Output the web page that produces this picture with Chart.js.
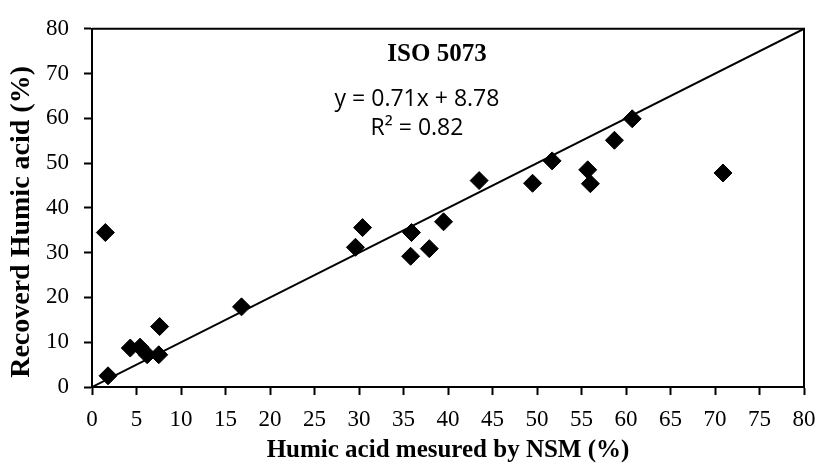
<!DOCTYPE html>
<html>
<head>
<meta charset="utf-8">
<script src="https://cdn.jsdelivr.net/npm/chart.js@4"></script>
<style>
  html, body { margin: 0; padding: 0; background: #fff; }
  #wrap { width: 819px; height: 466px; }
</style>
</head>
<body>
<div id="wrap"><canvas id="isoChart" width="819" height="466"></canvas></div>
<script>
// values
const nsmValues = [1.5, 1.8, 4.3, 5.4, 6.2, 7.5, 7.6, 16.8, 29.6, 30.4, 35.8, 35.9, 37.9, 39.5, 43.5, 49.5, 51.7, 55.7, 56.0, 58.7, 60.7, 70.9];
const recoveredValues = [34.5, 2.5, 8.7, 8.9, 7.2, 7.2, 13.5, 17.9, 31.2, 35.6, 29.2, 34.5, 30.9, 36.9, 46.1, 45.5, 50.5, 48.5, 45.4, 55.1, 59.9, 47.8];
const lineX = [0, 80];
const lineY = [0, 80];
const xTicks = [0, 5, 10, 15, 20, 25, 30, 35, 40, 45, 50, 55, 60, 65, 70, 75, 80];
const yTicks = [0, 10, 20, 30, 40, 50, 60, 70, 80];
const chartTitle = 'ISO 5073';
const equationText = 'y = 0.71x + 8.78';
const r2Text = 'R² = 0.82';
const yTitle = 'Recoverd Humic acid (%)';
const xTitle = 'Humic acid mesured by NSM (%)';

const points = nsmValues.map((x, i) => ({ x: x, y: recoveredValues[i] }));
const linePoints = lineX.map((x, i) => ({ x: x, y: lineY[i] }));

const serif = '"Liberation Serif", "Times New Roman", serif';

// frame around the plot, the text inside it and the y title (sits a bit low in the original)
const framePlugin = {
  id: 'frame',
  afterDraw(chart) {
    const a = chart.chartArea;
    const ctx = chart.ctx;
    ctx.save();
    ctx.strokeStyle = '#000';
    ctx.lineWidth = 2;
    ctx.beginPath();
    ctx.moveTo(a.left, a.top);
    ctx.lineTo(a.right, a.top);
    ctx.lineTo(a.right, a.bottom);
    ctx.stroke();

    ctx.fillStyle = '#000';
    ctx.textAlign = 'center';
    ctx.textBaseline = 'alphabetic';
    ctx.font = 'bold 25px ' + serif;
    ctx.fillText(chartTitle, 437, a.top + 32);
    ctx.font = '23px "Open Sans", sans-serif';
    ctx.fillText(equationText, 417, a.top + 77);
    ctx.fillText(r2Text, 417, a.top + 106);

    ctx.translate(22, (a.top + a.bottom) / 2 + 14);
    ctx.rotate(-Math.PI / 2);
    ctx.textBaseline = 'middle';
    ctx.font = 'bold 28px ' + serif;
    ctx.fillText(yTitle, 0, 0);
    ctx.restore();
  }
};

new Chart(document.getElementById('isoChart').getContext('2d'), {
  type: 'scatter',
  data: {
    datasets: [{
      label: 'ISO 5073',
      data: points,
      pointStyle: 'rectRot',
      pointRadius: 9,
      pointBorderWidth: 1,
      backgroundColor: '#000',
      borderColor: '#000',
      order: 1
    }, {
      label: '1:1',
      type: 'line',
      data: linePoints,
      borderColor: '#000',
      borderWidth: 2,
      pointRadius: 0,
      fill: false,
      order: 2
    }]
  },
  plugins: [framePlugin],
  options: {
    responsive: false,
    animation: false,
    layout: { padding: { top: 25, right: 0, left: 0, bottom: 0 } },
    plugins: {
      legend: { display: false },
      tooltip: { enabled: false }
    },
    scales: {
      x: {
        type: 'linear',
        min: 0,
        max: 80,
        afterBuildTicks: (s) => { s.ticks = xTicks.map(v => ({ value: v })); },
        afterFit: (s) => { s.height = 79; s.paddingLeft = 0; s.paddingRight = 15; },
        grid: { drawOnChartArea: false, drawTicks: true, tickLength: 8, tickColor: '#000', tickWidth: 2 },
        border: { display: true, color: '#000', width: 2 },
        ticks: { color: '#000', padding: 11, maxRotation: 0, font: { family: serif, size: 23 } },
        title: {
          display: true,
          text: xTitle,
          color: '#000',
          padding: { top: 0, bottom: 0 },
          font: { family: serif, size: 25, weight: 'bold' }
        }
      },
      y: {
        type: 'linear',
        min: 0,
        max: 80,
        afterBuildTicks: (s) => { s.ticks = yTicks.map(v => ({ value: v })); },
        afterFit: (s) => { s.width = 92; },
        grid: { drawOnChartArea: false, drawTicks: true, tickLength: 8, tickColor: '#000', tickWidth: 2 },
        border: { display: true, color: '#000', width: 2 },
        ticks: { color: '#000', padding: 15, font: { family: serif, size: 23 } }
      }
    }
  }
});
</script>
</body>
</html>
